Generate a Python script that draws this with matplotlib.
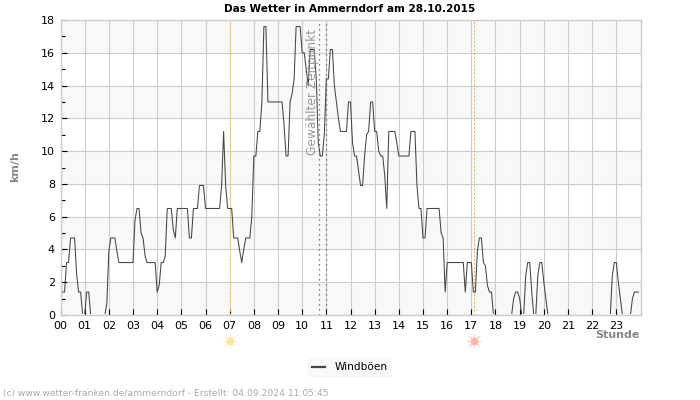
import numpy as np
import matplotlib
matplotlib.use("Agg")
import matplotlib.pyplot as plt
from matplotlib.patches import Rectangle

TITLE = "Das Wetter in Ammerndorf am 28.10.2015"
SERIES = "Windböen"
hour_labels = [f"{h:02d}" for h in range(24)]
y_labels = list(range(0, 19, 2))

h00 = [1.4,1.4,1.4,3.2,3.2,4.7,4.7,4.7,2.5,1.4,1.4,0]
h01 = [0,1.4,1.4,0,0,0,0,0,0,0,0,0.7]
h02 = [3.9,4.7,4.7,4.7,3.9,3.2,3.2,3.2,3.2,3.2,3.2,3.2]
h03 = [3.2,5.8,6.5,6.5,5.0,4.7,3.6,3.2,3.2,3.2,3.2,3.2]
h04 = [1.4,1.8,3.2,3.2,3.6,6.5,6.5,6.5,5.2,4.7,6.5,6.5]
h05 = [6.5,6.5,6.5,6.5,4.7,4.7,6.5,6.5,6.5,7.9,7.9,7.9]
h06 = [6.5,6.5,6.5,6.5,6.5,6.5,6.5,6.5,7.9,11.2,7.9,6.5]
h07 = [6.5,6.5,4.7,4.7,4.7,3.9,3.2,4.0,4.7,4.7,4.7,6.0]
h08 = [9.7,9.7,11.2,11.2,13,17.6,17.6,13,13,13,13,13]
h09 = [13,13,13,11.6,9.7,9.7,13,13.5,14.4,17.6,17.6,17.6]
h10 = [16,16,15,14,16.2,16.2,16.2,14.4,10.5,9.7,9.7,11]
h11 = [14.4,14.4,16.2,16.2,14,13,12,11.2,11.2,11.2,11.2,13]
h12 = [13,10.5,9.7,9.7,8.8,7.9,7.9,9.7,11,11.2,13,13]
h13 = [11.2,11.2,10,9.7,9.7,8.5,6.5,11.2,11.2,11.2,11.2,10.5]
h14 = [9.7,9.7,9.7,9.7,9.7,9.7,11.2,11.2,11.2,7.9,6.5,6.5]
h15 = [4.7,4.7,6.5,6.5,6.5,6.5,6.5,6.5,6.5,5,4.7,1.4]
h16 = [3.2,3.2,3.2,3.2,3.2,3.2,3.2,3.2,3.2,1.4,3.2,3.2]
h17 = [3.2,1.4,1.4,3.9,4.7,4.7,3.2,3,1.8,1.4,1.4,0]
h18 = [0,0,0,0,0,0,0,0,0,1.0,1.4,1.4]
h19 = [1,0,0,2.4,3.2,3.2,1.4,0,0,2.4,3.2,3.2]
h20 = [2,1,0,0,0,0,0,0,0,0,0,0]
h21 = [0,0,0,0,0,0,0,0,0,0,0,0]
h22 = [0,0,0,0,0,0,0,0,0,0,2.4,3.2]
h23 = [3.2,2,1,0,0,0,0,0,1.0,1.4,1.4,1.4]
gusts = (h00+h01+h02+h03+h04+h05+h06+h07+h08+h09+h10+h11+h12+h13+h14+h15+
         h16+h17+h18+h19+h20+h21+h22+h23)
minutes_step = 5
sunrise = 7.0
sunset = 17.1
selected = [10.71, 10.97]

plt.rcParams["font.family"] = "DejaVu Sans"
fig = plt.figure(figsize=(7, 4), dpi=100)
ax = fig.add_axes([60.5/700, 1-315/400, 580/700, 295/400])
ax.set_xlim(0, 24)
ax.set_ylim(0, 18)

for lo in range(0, 18, 4):
    ax.axhspan(lo, lo+2, color="#f8f8f8", lw=0, zorder=0)
ax.set_axisbelow(True)
ax.grid(True, color="#cccccc", lw=0.8)
for s in ax.spines.values():
    s.set_color("#cccccc")
    s.set_linewidth(1)
    s.set_zorder(5)

x = np.arange(len(gusts)) * minutes_step / 60
line, = ax.plot(x, gusts, color="#444444", lw=0.75, zorder=3, label=SERIES)
line.set_clip_path(Rectangle((0, 0.07), 24, 18, transform=ax.transData))

ax.axvline(sunrise, color="#f5e020", lw=0.7, ls=(0, (2, 2)), zorder=2)
ax.axvline(sunset, color="#fba82a", lw=0.7, ls=(0, (2, 2)), zorder=2)
for v in selected:
    ax.axvline(v, color="#555555", lw=0.9, ls=(0, (1, 3)), zorder=2)
ax.text(10.43, 17.45, "Gewählter Zeitpunkt", rotation=90, ha="center", va="top",
        fontsize=8.8, color="#999999", zorder=4)

ax.set_xticks(range(24))
ax.set_xticklabels(hour_labels, fontsize=8)
ax.set_yticks(y_labels)
ax.set_yticklabels([str(v) for v in y_labels], fontsize=8)
ax.set_yticks(range(1, 18, 2), minor=True)
ax.tick_params(axis="both", which="major", direction="in", length=4, width=0.8,
               color="black", pad=4, labelcolor="black")
ax.tick_params(axis="y", which="minor", direction="in", length=3, width=0.8, color="black")

trans = ax.get_xaxis_transform()
for xv, c in [(sunrise, "#fde6a0"), (sunset, "#fdb8a8")]:
    ax.plot([xv], [-0.088], marker="o", ms=5.5, color=c, mew=0, transform=trans, clip_on=False)
    ax.plot([xv], [-0.088], marker=(8, 2, 0), ms=10, color=c, mew=0.7, transform=trans, clip_on=False, alpha=0.7)

fig.text(349.5/700, 1-8.5/400, TITLE, ha="center", va="center",
         fontsize=7.55, fontweight="bold", color="black")
fig.text(15.5/700, 1-167/400, "km/h", rotation=90, ha="center", va="center",
         fontsize=8, fontweight="bold", color="#888888")
fig.text(640/700, 1-334.5/400, "Stunde", ha="right", va="center",
         fontsize=8, fontweight="bold", color="#888888")

leg = ax.legend(loc="center", bbox_to_anchor=(350/700, 1-367.5/400), bbox_transform=fig.transFigure,
                frameon=True, fontsize=7.6, handlelength=1.2, handletextpad=0.9,
                borderpad=0.4, borderaxespad=0, fancybox=False)
leg.get_frame().set_facecolor("#f8f8f8")
leg.get_frame().set_edgecolor("none")
leg.get_frame().set_alpha(1)
for h in leg.get_lines():
    h.set_linewidth(1.6)

fig.text(3/700, 1-393.5/400, "(c) www.wetter-franken.de/ammerndorf - Erstellt: 04.09.2024 11:05:45",
         ha="left", va="center", fontsize=6.55, color="#aaaaaa")
fig.savefig("out.png", dpi=100)
